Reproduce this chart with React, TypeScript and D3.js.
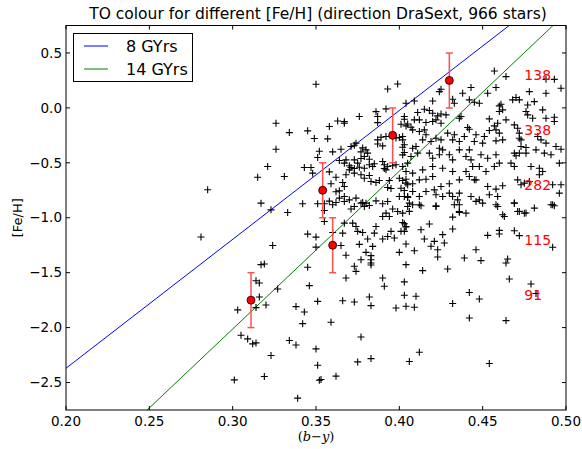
import React from "react";
import * as d3 from "d3";

// ---- data ----
const stars: [number, number][] = [
[0.350,0.215],[0.399,0.218],[0.393,0.172],[0.386,-0.034],[0.392,-0.009],[0.387,-0.079],[0.387,-0.134],[0.403,-0.103],[0.401,-0.149],[0.405,-0.146],[0.376,-0.079],[0.363,-0.119],[0.367,-0.125],[0.367,-0.140],[0.358,-0.170],[0.345,-0.209],[0.334,-0.225],[0.326,-0.140],[0.349,-0.279],[0.357,-0.282],[0.326,-0.376],[0.352,-0.394],[0.351,-0.452],[0.360,-0.400],[0.365,-0.376],[0.371,-0.352],[0.373,-0.340],[0.374,-0.321],[0.378,-0.364],[0.380,-0.382],[0.377,-0.400],[0.381,-0.412],[0.379,-0.443],[0.377,-0.461],[0.387,-0.291],[0.389,-0.267],[0.392,-0.261],[0.398,-0.273],[0.400,-0.270],[0.402,-0.291],[0.387,-0.328],[0.390,-0.346],[0.402,-0.358],[0.403,-0.406],[0.402,-0.428],[0.364,-0.479],[0.367,-0.503],[0.370,-0.527],[0.368,-0.473],[0.373,-0.473],[0.375,-0.503],[0.382,-0.467],[0.385,-0.509],[0.384,-0.534],[0.382,-0.518],[0.379,-0.549],[0.376,-0.540],[0.373,-0.552],[0.371,-0.543],[0.370,-0.564],[0.390,-0.488],[0.391,-0.518],[0.392,-0.564],[0.391,-0.552],[0.393,-0.534],[0.396,-0.527],[0.398,-0.518],[0.343,-0.543],[0.347,-0.543],[0.348,-0.594],[0.321,-0.534],[0.315,-0.631],[0.331,-0.625],[0.358,-0.582],[0.362,-0.631],[0.366,-0.679],[0.367,-0.715],[0.359,-0.691],[0.362,-0.764],[0.364,-0.755],[0.368,-0.609],[0.373,-0.594],[0.377,-0.609],[0.379,-0.640],[0.382,-0.615],[0.383,-0.670],[0.386,-0.679],[0.388,-0.661],[0.394,-0.661],[0.393,-0.725],[0.395,-0.734],[0.400,-0.640],[0.402,-0.661],[0.404,-0.649],[0.405,-0.700],[0.401,-0.731],[0.403,-0.752],[0.400,-0.806],[0.403,-0.806],[0.405,-0.815],[0.317,-0.867],[0.323,-0.928],[0.333,-0.952],[0.342,-0.873],[0.351,-0.873],[0.355,-0.873],[0.355,-0.934],[0.358,-0.849],[0.360,-0.882],[0.362,-0.861],[0.364,-0.821],[0.367,-0.806],[0.367,-0.852],[0.370,-0.837],[0.374,-0.821],[0.371,-0.921],[0.373,-0.897],[0.377,-0.867],[0.378,-0.861],[0.380,-0.867],[0.379,-0.897],[0.382,-0.888],[0.386,-0.846],[0.390,-0.873],[0.393,-0.852],[0.396,-0.921],[0.392,-0.958],[0.390,-0.988],[0.394,-0.988],[0.399,-0.943],[0.402,-0.958],[0.405,-0.897],[0.402,-1.043],[0.404,-1.079],[0.401,-1.124],[0.345,-1.149],[0.350,-1.176],[0.355,-1.034],[0.360,-1.134],[0.366,-1.140],[0.367,-1.049],[0.372,-1.049],[0.374,-1.079],[0.375,-1.124],[0.378,-1.134],[0.381,-1.194],[0.385,-1.140],[0.386,-1.079],[0.390,-1.194],[0.393,-1.170],[0.395,-1.124],[0.397,-1.185],
[0.324,-1.252],[0.350,-1.267],[0.365,-1.252],[0.376,-1.242],[0.384,-1.261],[0.380,-1.315],[0.383,-1.345],[0.383,-1.382],[0.383,-1.412],[0.383,-1.430],[0.377,-1.382],[0.368,-1.342],[0.317,-1.427],[0.319,-1.421],[0.345,-1.451],[0.373,-1.442],[0.374,-1.488],[0.368,-1.548],[0.390,-1.548],[0.391,-1.624],[0.314,-1.573],[0.316,-1.594],[0.346,-1.618],[0.327,-1.648],[0.382,-1.721],[0.316,-1.721],[0.351,-1.761],[0.366,-1.755],[0.373,-1.767],[0.383,-1.800],[0.320,-1.794],[0.314,-1.818],[0.303,-1.839],[0.338,-1.809],[0.343,-1.858],[0.398,-1.821],[0.342,-1.964],[0.359,-1.951],[0.305,-2.070],[0.309,-2.103],[0.312,-2.148],[0.314,-2.139],[0.323,-2.254],[0.334,-2.118],[0.338,-2.158],[0.350,-2.194],[0.377,-2.085],[0.351,-2.342],[0.375,-2.312],[0.383,-2.282],[0.362,-2.442],[0.352,-2.479],[0.353,-2.473],[0.319,-2.445],[0.301,-2.476],[0.339,-2.642],
[0.285,-0.745],[0.281,-1.175],
[0.457,0.336],[0.464,0.285],[0.493,0.260],[0.488,0.260],[0.497,0.179],[0.478,0.148],[0.488,0.133],[0.481,0.057],[0.458,0.185],[0.453,0.133],[0.443,0.185],[0.438,0.133],[0.425,0.170],[0.424,0.148],[0.432,0.079],[0.433,0.042],[0.420,0.063],[0.428,-0.064],[0.425,-0.055],[0.442,0.073],[0.445,0.051],[0.448,0.042],[0.436,-0.094],[0.437,-0.079],[0.441,-0.179],[0.442,-0.194],[0.460,0.018],[0.461,0.033],[0.462,-0.018],[0.460,-0.033],[0.454,-0.100],[0.464,-0.109],[0.459,-0.140],[0.457,-0.164],[0.458,-0.200],[0.454,-0.206],[0.460,-0.230],[0.462,-0.291],[0.458,-0.300],[0.468,0.073],[0.470,0.094],[0.472,0.073],[0.477,0.027],[0.476,-0.033],[0.477,-0.064],[0.480,-0.094],[0.486,-0.018],[0.469,-0.155],[0.471,-0.185],[0.472,-0.230],[0.472,-0.276],[0.473,-0.291],[0.476,-0.361],[0.473,-0.352],[0.472,-0.412],[0.476,-0.412],[0.488,-0.094],[0.493,-0.085],[0.493,-0.124],[0.483,-0.261],[0.485,-0.291],[0.482,-0.382],[0.488,-0.321],[0.487,-0.412],[0.491,-0.427],[0.494,-0.352],[0.497,-0.376],[0.496,-0.503],[0.469,-0.412],[0.470,-0.436],[0.467,-0.503],[0.469,-0.533],[0.479,-0.533],[0.484,-0.549],[0.486,-0.579],[0.484,-0.609],[0.471,-0.655],[0.473,-0.700],[0.475,-0.685],[0.478,-0.670],[0.492,-0.700],[0.497,-0.700],[0.496,-0.776],[0.491,-0.882],[0.493,-0.891],[0.469,-0.867],[0.471,-0.943],[0.475,-0.958],[0.481,-0.912],
[0.404,0.042],[0.409,0.063],[0.411,-0.042],[0.415,-0.012],[0.418,-0.024],[0.420,-0.049],[0.423,-0.073],[0.420,-0.124],[0.422,-0.109],[0.425,-0.140],[0.416,-0.133],[0.412,-0.109],[0.403,-0.079],[0.404,-0.164],[0.407,-0.176],[0.409,-0.109],[0.408,-0.200],[0.412,-0.215],[0.415,-0.200],[0.416,-0.245],[0.414,-0.291],[0.419,-0.306],[0.422,-0.276],[0.425,-0.291],[0.424,-0.367],[0.426,-0.382],[0.402,-0.261],[0.403,-0.336],[0.408,-0.367],[0.410,-0.352],[0.411,-0.412],[0.407,-0.443],[0.405,-0.503],[0.402,-0.533],[0.418,-0.412],[0.420,-0.458],[0.424,-0.427],[0.430,-0.427],[0.432,-0.473],[0.436,-0.382],[0.440,-0.443],[0.442,-0.382],[0.443,-0.473],[0.449,-0.427],[0.446,-0.245],[0.451,-0.261],[0.450,-0.321],[0.445,-0.306],[0.439,-0.261],[0.436,-0.306],[0.432,-0.291],[0.433,-0.245],[0.429,-0.230],[0.453,-0.458],[0.458,-0.427],[0.460,-0.503],[0.457,-0.533],[0.452,-0.579],[0.448,-0.533],[0.404,-0.579],[0.408,-0.594],[0.414,-0.564],[0.420,-0.533],[0.426,-0.549],[0.432,-0.579],[0.440,-0.579],[0.444,-0.533],[0.446,-0.655],[0.442,-0.624],[0.436,-0.655],[0.430,-0.691],[0.425,-0.715],[0.420,-0.624],[0.416,-0.649],[0.412,-0.655],[0.408,-0.691],[0.404,-0.685],[0.453,-0.715],[0.458,-0.739],[0.462,-0.709],[0.459,-0.806],[0.454,-0.791],[0.448,-0.837],[0.443,-0.806],[0.436,-0.776],[0.435,-0.837],[0.432,-0.806],[0.430,-0.776],[0.426,-0.806],[0.422,-0.791],[0.421,-0.746],[0.416,-0.761],[0.412,-0.806],[0.408,-0.761],[0.405,-0.806],[0.406,-0.867],[0.412,-0.882],[0.422,-0.897],[0.433,-0.882],[0.436,-0.943],[0.440,-0.958],[0.450,-0.867],[0.458,-0.882],[0.462,-0.973],[0.445,-0.655],
[0.408,-0.881],[0.413,-0.891],[0.422,-0.891],[0.436,-0.881],[0.446,-0.851],[0.459,-0.897],[0.469,-0.866],[0.472,-0.942],[0.476,-0.957],[0.492,-0.881],[0.406,-0.942],[0.436,-0.951],[0.432,-0.994],[0.463,-0.988],[0.418,-1.057],[0.403,-1.054],[0.404,-1.084],[0.403,-1.124],[0.413,-1.109],[0.432,-1.103],[0.426,-1.154],[0.421,-1.215],[0.415,-1.194],[0.427,-1.230],[0.419,-1.260],[0.423,-1.291],[0.423,-1.357],[0.404,-1.239],[0.409,-1.300],[0.400,-1.315],[0.446,-1.291],[0.439,-1.366],[0.449,-1.390],[0.453,-1.160],[0.460,-1.115],[0.460,-1.148],[0.469,-1.118],[0.472,-1.163],[0.492,-1.269],[0.464,-1.412],[0.465,-1.375],[0.404,-1.427],[0.414,-1.481],[0.429,-1.466],[0.466,-1.557],[0.403,-1.584],[0.479,-1.603],[0.482,-1.690],[0.403,-1.706],[0.410,-1.715],[0.442,-1.681],[0.448,-1.739],[0.404,-1.806],[0.409,-1.815],[0.432,-1.781],[0.442,-1.912],[0.464,-1.936],[0.412,-2.224],[0.406,-2.309],[0.454,-2.327]
];

const binFeH = [-1.75, -1.25, -0.75, -0.25, 0.25];
const binTO = [0.311, 0.360, 0.354, 0.396, 0.430];
const binErr = [0.25, 0.25, 0.25, 0.25, 0.25];
const binCounts = ["91", "115", "282", "338", "138"];
const countLabelX = 0.475;

const isoNames = ["8 GYrs", "14 GYrs"];
const isoColors = ["#0000ff", "#008000"];
const isoX = [[0.20, 0.50], [0.20, 0.50]];
const isoY = [[-2.37, 1.15], [-3.45, 0.862]];

const xTicks = [0.20, 0.25, 0.30, 0.35, 0.40, 0.45, 0.50];
const yTicks = [-2.5, -2.0, -1.5, -1.0, -0.5, 0.0, 0.5];

const W = 582, H = 449;
const L = 66, R = 566, T = 25.5, B = 410;

export default function App() {
  const x = d3.scaleLinear().domain([0.2, 0.5]).range([L, R]);
  const y = d3.scaleLinear().domain([-2.75, 0.75]).range([B, T]);
  const line = d3.line<[number, number]>().x(d => x(d[0])).y(d => y(d[1]));
  const font = "'DejaVu Sans', sans-serif";
  const fmtY = (v: number) => d3.format(".1f")(v).replace("-", "\u2212");
  const cs = 3.5;
  return (
    <svg width={W} height={H} style={{ position: "fixed", left: 0, top: 0, background: "#fff" }}>
      <defs>
        <clipPath id="plot"><rect x={L} y={T} width={R - L} height={B - T} /></clipPath>
      </defs>
      <rect x={0} y={0} width={W} height={H} fill="#fff" />
      <g clipPath="url(#plot)">
        {isoNames.map((n, i) => (
          <path key={n} d={line(isoX[i].map((v, j) => [v, isoY[i][j]] as [number, number])) || ""}
            stroke={isoColors[i]} strokeWidth={1} fill="none" />
        ))}
        {stars.map((s, i) => (
          <path key={i} d={`M${x(s[0]) - cs},${y(s[1])}h${2 * cs}M${x(s[0])},${y(s[1]) - cs}v${2 * cs}`}
            stroke="#000" strokeWidth={1.1} fill="none" />
        ))}
        {binFeH.map((v, i) => (
          <g key={i} stroke="#ff5050" strokeWidth={1.5}>
            <line x1={x(binTO[i])} x2={x(binTO[i])} y1={y(v - binErr[i])} y2={y(v + binErr[i])} />
            <line x1={x(binTO[i]) - 3.5} x2={x(binTO[i]) + 3.5} y1={y(v - binErr[i])} y2={y(v - binErr[i])} />
            <line x1={x(binTO[i]) - 3.5} x2={x(binTO[i]) + 3.5} y1={y(v + binErr[i])} y2={y(v + binErr[i])} />
          </g>
        ))}
        {binFeH.map((v, i) => (
          <circle key={i} cx={x(binTO[i])} cy={y(v)} r={4} fill="#ff0000" stroke="#000" strokeWidth={0.8} />
        ))}
        {binFeH.map((v, i) => (
          <text key={i} x={x(countLabelX)} y={y(v)} fill="#ff0000" fontFamily={font} fontSize={14}>{binCounts[i]}</text>
        ))}
      </g>
      <rect x={L} y={T} width={R - L} height={B - T} fill="none" stroke="#000" strokeWidth={1} />
      {xTicks.map(t => (
        <g key={t}>
          <line x1={x(t)} x2={x(t)} y1={B} y2={B - 4} stroke="#000" />
          <line x1={x(t)} x2={x(t)} y1={T} y2={T + 4} stroke="#000" />
          <text x={x(t)} y={B + 16} textAnchor="middle" fontFamily={font} fontSize={13.5}>{t.toFixed(2)}</text>
        </g>
      ))}
      {yTicks.map(t => (
        <g key={t}>
          <line x1={L} x2={L + 4} y1={y(t)} y2={y(t)} stroke="#000" />
          <line x1={R} x2={R - 4} y1={y(t)} y2={y(t)} stroke="#000" />
          <text x={L - 4} y={y(t)} dy="0.35em" textAnchor="end" fontFamily={font} fontSize={13.5}>{fmtY(t)}</text>
        </g>
      ))}
      <text x={(L + R) / 2 + 2} y={19} textAnchor="middle" fontFamily={font} fontSize={15.5}>
        TO colour for different [Fe/H] (direction DraSext, 966 stars)
      </text>
      <text x={(L + R) / 2} y={441} textAnchor="middle" fontFamily="'DejaVu Serif', serif" fontSize={13}>
        <tspan>(</tspan><tspan fontStyle="italic">b</tspan><tspan>{"\u2212"}</tspan><tspan fontStyle="italic">y</tspan><tspan>)</tspan>
      </text>
      <text transform={`translate(22,${(T + B) / 2}) rotate(-90)`} textAnchor="middle" fontFamily={font} fontSize={13}>[Fe/H]</text>
      <g>
        <rect x={73.5} y={33.5} width={119} height={48} fill="#fff" stroke="#000" strokeWidth={1} />
        {isoNames.map((n, i) => (
          <g key={n}>
            <line x1={84} x2={108} y1={46 + i * 23} y2={46 + i * 23} stroke={isoColors[i]} strokeWidth={1} />
            <text x={126} y={46 + i * 23} dy="0.36em" fontFamily={font} fontSize={16}>{n}</text>
          </g>
        ))}
      </g>
    </svg>
  );
}
